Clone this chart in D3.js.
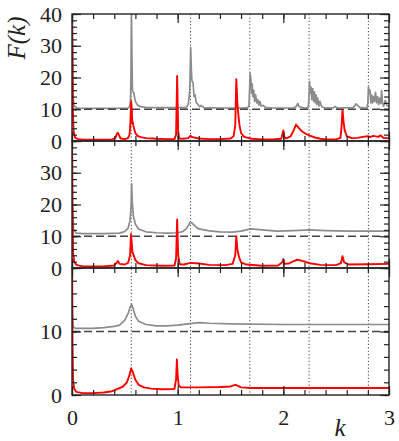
<!DOCTYPE html>
<html>
<head>
<meta charset="utf-8">
<script src="https://cdn.jsdelivr.net/npm/d3@7"></script>
<style>
  body { margin: 0; background: #fff; }
</style>
</head>
<body>
<script>
const w = 399;
const h = 441;
const left = 72;
const right = 389;
const serif = "'Times New Roman', Times, 'Liberation Serif', 'DejaVu Serif', serif";

// k positions of the dotted guide lines
const guideK = [0.561, 1.122, 1.683, 2.244, 2.805];
const dashedLevel = 10;

// panel 1 (top)
const gray1 = [[0,45],[0.004,40],[0.01,14],[0.02,11],[0.05,10.4],[0.2,10.3],[0.4,10.3],[0.53,10.4],[0.545,10.8],[0.553,12.5],[0.558,20],[0.563,40],[0.568,25],[0.572,16],[0.578,15.5],[0.585,15.2],[0.592,13.8],[0.6,12.5],[0.62,11.3],[0.65,10.8],[0.7,10.6],[0.8,10.5],[0.95,10.5],[1.08,10.5],[1.1,11.5],[1.115,16],[1.123,29.5],[1.13,22],[1.135,19],[1.145,18.5],[1.155,14],[1.165,14.5],[1.175,12.2],[1.19,11.6],[1.21,10.8],[1.22,11.2],[1.25,10.5],[1.4,10.4],[1.6,10.4],[1.665,10.5],[1.675,11.2],[1.686,21.3],[1.693,19.5],[1.7,15],[1.705,18],[1.712,14],[1.72,16],[1.728,12.5],[1.738,14.5],[1.748,12],[1.758,13],[1.768,11.3],[1.778,12.5],[1.79,11],[1.81,11.2],[1.83,10.6],[1.9,10.4],[2.1,10.4],[2.12,10.8],[2.137,11.8],[2.15,10.8],[2.2,10.4],[2.235,10.5],[2.242,13],[2.248,18.8],[2.255,15],[2.262,17],[2.27,13],[2.278,16.5],[2.286,12.5],[2.294,15.5],[2.302,12],[2.31,14.5],[2.318,11.5],[2.326,13.5],[2.336,11],[2.346,12.5],[2.36,11],[2.38,10.5],[2.47,10.4],[2.49,10.9],[2.51,10.4],[2.66,10.5],[2.69,11.7],[2.72,10.6],[2.79,10.4],[2.8,12],[2.806,17.1],[2.813,15],[2.82,16],[2.828,12],[2.836,14.5],[2.845,12],[2.853,14],[2.862,12.5],[2.872,15.3],[2.882,12],[2.892,14],[2.902,11.5],[2.912,13.5],[2.922,11.8],[2.93,15.9],[2.938,12],[2.95,11],[2.965,12.8],[2.98,11.2],[3,11]];
const red1 = [[0,36],[0.003,30],[0.008,10],[0.015,3],[0.03,1],[0.06,0.6],[0.1,0.5],[0.2,0.4],[0.3,0.4],[0.38,0.5],[0.41,0.9],[0.425,2.3],[0.435,2.6],[0.445,1.8],[0.46,0.8],[0.5,0.6],[0.53,0.9],[0.545,2],[0.553,6],[0.56,12.5],[0.566,10],[0.57,5.5],[0.575,6],[0.58,5],[0.59,3.6],[0.6,2.5],[0.62,1.6],[0.65,1.2],[0.7,0.9],[0.8,0.7],[0.9,0.6],[0.97,0.6],[0.985,2],[0.995,20.5],[1.005,3],[1.015,0.8],[1.05,0.7],[1.1,0.9],[1.12,1.6],[1.14,1.2],[1.2,0.8],[1.3,0.6],[1.4,0.6],[1.5,0.8],[1.53,1.5],[1.545,5],[1.555,19.5],[1.565,12],[1.575,8],[1.585,5],[1.6,2.5],[1.63,1.3],[1.7,0.7],[1.8,0.5],[1.9,0.5],[1.98,0.7],[1.99,2],[2,3.3],[2.01,1.2],[2.03,0.8],[2.07,1.5],[2.1,3.5],[2.12,5.2],[2.135,4.6],[2.15,4],[2.17,3.2],[2.2,2.5],[2.25,1.7],[2.3,1.1],[2.35,0.7],[2.4,0.5],[2.5,0.5],[2.54,1],[2.55,4],[2.56,9.8],[2.57,6],[2.58,3.5],[2.6,1.5],[2.65,0.9],[2.7,1],[2.75,1.3],[2.8,1.5],[2.82,1.2],[2.85,1.6],[2.9,1.3],[2.92,1.8],[2.95,0.9],[3,0.9]];

// panel 2 (middle)
const gray2 = [[0,45],[0.005,20],[0.015,12],[0.04,11],[0.1,10.8],[0.3,10.8],[0.45,11],[0.5,11.5],[0.53,12.5],[0.55,15],[0.56,20],[0.565,26.5],[0.57,21],[0.58,16.5],[0.6,13.8],[0.63,12.3],[0.7,11.4],[0.8,11.1],[0.9,11],[1,11.1],[1.05,11.5],[1.08,12.3],[1.1,13.3],[1.12,14.5],[1.14,14],[1.17,13],[1.2,12.3],[1.3,11.7],[1.4,11.4],[1.52,11.3],[1.6,11.6],[1.69,12.3],[1.8,12],[1.94,11.6],[2.1,11.8],[2.25,12],[2.4,11.8],[2.63,11.6],[3,11.6]];
const red2 = [[0,45],[0.004,20],[0.01,5],[0.02,2],[0.04,1],[0.1,0.5],[0.3,0.5],[0.4,0.8],[0.425,1.8],[0.435,2.2],[0.45,1.3],[0.5,1.1],[0.53,1.6],[0.55,4],[0.558,10.7],[0.565,8],[0.572,5],[0.58,4.3],[0.6,2.5],[0.63,1.5],[0.7,0.9],[0.85,0.7],[0.97,0.8],[0.985,3],[0.995,15.3],[1.005,4],[1.02,1.2],[1.06,1.1],[1.12,1.6],[1.2,1.4],[1.3,1],[1.45,0.9],[1.52,1.3],[1.545,4],[1.555,10],[1.565,6],[1.58,3.5],[1.6,1.8],[1.65,1.1],[1.8,0.7],[1.95,0.8],[1.99,1.8],[2,2.8],[2.01,1.3],[2.05,1.4],[2.1,2.2],[2.13,2.6],[2.17,2.3],[2.25,1.5],[2.35,1],[2.5,0.9],[2.545,1.5],[2.56,3.7],[2.575,1.8],[2.62,1.1],[2.8,1.2],[3,1.3]];

// panel 3 (bottom)
const gray3 = [[0,15],[0.005,12],[0.01,10.8],[0.03,10.5],[0.1,10.5],[0.2,10.5],[0.3,10.6],[0.4,10.8],[0.45,11],[0.5,11.8],[0.53,12.8],[0.55,13.8],[0.565,14.3],[0.58,13.5],[0.6,12.4],[0.63,11.6],[0.7,11.1],[0.8,10.9],[0.9,10.9],[1,11],[1.1,11.2],[1.2,11.4],[1.3,11.3],[1.5,11.2],[2,11.1],[3,11.1]];
const red3 = [[0,25],[0.005,8],[0.01,2.5],[0.02,1],[0.04,0.5],[0.1,0.3],[0.2,0.3],[0.3,0.4],[0.38,0.6],[0.42,0.9],[0.48,1.3],[0.52,2],[0.545,3.2],[0.56,4.2],[0.575,3.6],[0.6,2.4],[0.63,1.6],[0.68,1.2],[0.75,1],[0.85,0.9],[0.97,0.95],[0.985,2.5],[0.993,5.6],[1,3],[1.01,1.5],[1.03,1.2],[1.1,1.2],[1.2,1.2],[1.4,1.25],[1.5,1.35],[1.545,1.6],[1.56,1.5],[1.6,1.2],[1.7,1.1],[2,1.1],[3,1.1]];

const xTicks = [0, 1, 2, 3];
const yLabels1 = [0, 10, 20, 30, 40];
const yLabels2 = [0, 10, 20, 30];
const yLabels3 = [0, 10];

const panels = [
  { top: 14, bottom: 141, ymax: 40, gray: gray1, red: red1, labels: yLabels1 },
  { top: 141, bottom: 268, ymax: 40, gray: gray2, red: red2, labels: yLabels2 },
  { top: 268, bottom: 395, ymax: 20, gray: gray3, red: red3, labels: yLabels3 }
];

const svg = d3.select("body")
  .append("svg")
  .attr("width", w)
  .attr("height", h);

const xScale = d3.scaleLinear().domain([0, 3]).range([left, right]);

// dotted guides across all panels
svg.selectAll(".guide")
  .data(guideK)
  .enter()
  .append("line")
  .attr("class", "guide")
  .attr("x1", d => xScale(d))
  .attr("x2", d => xScale(d))
  .attr("y1", panels[0].top)
  .attr("y2", panels[2].bottom)
  .attr("stroke", "#444")
  .attr("stroke-width", 1)
  .attr("stroke-dasharray", "1.2,2.2");

panels.forEach((p, i) => {
  const yScale = d3.scaleLinear().domain([0, p.ymax]).range([p.bottom, p.top]);

  svg.append("clipPath")
    .attr("id", "clip" + i)
    .append("rect")
    .attr("x", left)
    .attr("y", p.top)
    .attr("width", right - left)
    .attr("height", p.bottom - p.top);

  const g = svg.append("g").attr("clip-path", `url(#clip${i})`);

  const line = d3.line()
    .x(d => xScale(d[0]))
    .y(d => yScale(d[1]));

  g.append("path")
    .datum(p.gray)
    .attr("d", line)
    .attr("fill", "none")
    .attr("stroke", "#8c8c8c")
    .attr("stroke-width", 1.7)
    .attr("stroke-linejoin", "round");

  g.append("line")
    .attr("x1", left)
    .attr("x2", right)
    .attr("y1", yScale(dashedLevel))
    .attr("y2", yScale(dashedLevel))
    .attr("stroke", "#444")
    .attr("stroke-width", 1.3)
    .attr("stroke-dasharray", "8,4");

  g.append("path")
    .datum(p.red)
    .attr("d", line)
    .attr("fill", "none")
    .attr("stroke", "#ff0000")
    .attr("stroke-width", 1.9)
    .attr("stroke-linejoin", "round");

  // axes: inward ticks on all four sides
  const minorX = d3.range(0, 3.0001, 0.2);
  const minorY = d3.range(0, p.ymax + 0.001, 2);
  const majorY = d3.range(0, p.ymax + 0.001, 10);

  const axes = [
    [d3.axisBottom(xScale), `translate(0,${p.bottom})`, minorX, xTicks],
    [d3.axisTop(xScale), `translate(0,${p.top})`, minorX, xTicks],
    [d3.axisLeft(yScale), `translate(${left},0)`, minorY, majorY],
    [d3.axisRight(yScale), `translate(${right},0)`, minorY, majorY]
  ];

  axes.forEach(([ax, tr, minor, major]) => {
    svg.append("g")
      .attr("transform", tr)
      .call(ax.tickValues(minor).tickSize(-5).tickFormat(""))
      .call(s => s.select(".domain").remove());
    svg.append("g")
      .attr("transform", tr)
      .call(ax.tickValues(major).tickSize(-9).tickFormat(""))
      .call(s => s.select(".domain").remove());
  });

  svg.selectAll(".tick line").attr("stroke", "#222").attr("stroke-width", 1.2);

  // y labels
  svg.append("g")
    .attr("transform", `translate(${left},0)`)
    .call(d3.axisLeft(yScale).tickValues(p.labels).tickSize(0).tickPadding(10))
    .attr("font-family", serif)
    .attr("font-size", 22)
    .call(s => s.select(".domain").remove())
    .selectAll("text")
    .attr("fill", "#222");

  svg.append("rect")
    .attr("x", left)
    .attr("y", p.top)
    .attr("width", right - left)
    .attr("height", p.bottom - p.top)
    .attr("fill", "none")
    .attr("stroke", "#222")
    .attr("stroke-width", 1.4);
});

// x labels
svg.append("g")
  .attr("transform", `translate(0,${panels[2].bottom})`)
  .call(d3.axisBottom(xScale).tickValues(xTicks).tickSize(0).tickPadding(14).tickFormat(d3.format("d")))
  .attr("font-family", serif)
  .attr("font-size", 22)
  .call(s => s.select(".domain").remove())
  .selectAll("text")
  .attr("fill", "#222");

// axis titles
svg.append("text")
  .attr("transform", "translate(25,38) rotate(-90)")
  .attr("text-anchor", "middle")
  .attr("font-family", serif)
  .attr("font-size", 25)
  .attr("font-style", "italic")
  .attr("fill", "#222")
  .text("F(k)");

svg.append("text")
  .attr("x", 340)
  .attr("y", 436)
  .attr("text-anchor", "middle")
  .attr("font-family", serif)
  .attr("font-size", 25)
  .attr("font-style", "italic")
  .attr("fill", "#222")
  .text("k");
</script>
</body>
</html>
